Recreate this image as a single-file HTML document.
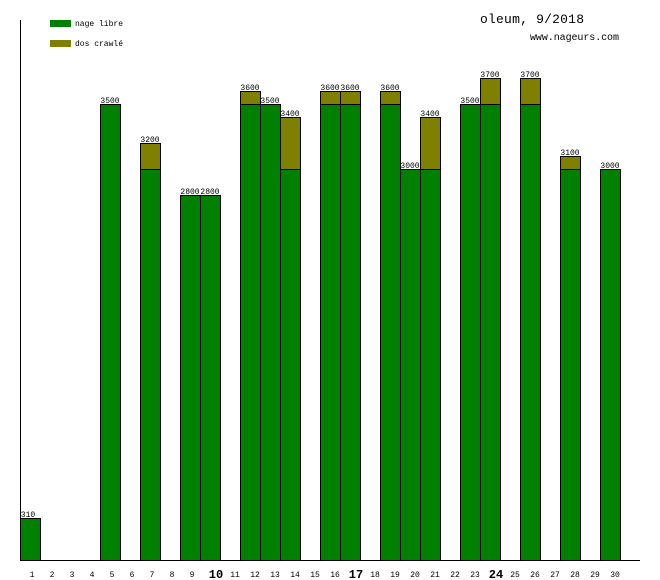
<!DOCTYPE html>
<html><head><meta charset="utf-8"><style>
html,body{margin:0;padding:0;background:#fff;}
svg{display:block;}
text{font-family:"Liberation Mono","DejaVu Sans Mono",monospace;fill:#000;}
.v{font-size:8px;text-anchor:middle;}
.d{font-size:8px;text-anchor:middle;}
.b{font-size:12px;font-weight:bold;text-anchor:middle;}
</style></head><body>
<svg width="660" height="580" viewBox="0 0 660 580" xmlns="http://www.w3.org/2000/svg">
<g stroke="#000" stroke-width="1">
<line x1="20.5" y1="20" x2="20.5" y2="560" />
<line x1="20" y1="560.5" x2="640" y2="560.5" />
</g>
<rect x="50" y="20" width="21" height="7" fill="#008000"/>
<rect x="50" y="40" width="21" height="7" fill="#808000"/>
<text x="75" y="26" style="font-size:8px">nage libre</text>
<text x="75" y="46" style="font-size:8px">dos crawlé</text>
<text x="480" y="23" style="font-size:13px" textLength="104">oleum, 9/2018</text>
<text x="530" y="40" style="font-size:10px" textLength="89">www.nageurs.com</text>
<g stroke="#000" stroke-width="1">
<rect x="20.5" y="518.5" width="20" height="42" fill="#008000"/>
<rect x="100.5" y="104.5" width="20" height="456" fill="#008000"/>
<rect x="140.5" y="143.5" width="20" height="26" fill="#808000"/>
<rect x="140.5" y="169.5" width="20" height="391" fill="#008000"/>
<rect x="180.5" y="195.5" width="20" height="365" fill="#008000"/>
<rect x="200.5" y="195.5" width="20" height="365" fill="#008000"/>
<rect x="240.5" y="91.5" width="20" height="13" fill="#808000"/>
<rect x="240.5" y="104.5" width="20" height="456" fill="#008000"/>
<rect x="260.5" y="104.5" width="20" height="456" fill="#008000"/>
<rect x="280.5" y="117.5" width="20" height="52" fill="#808000"/>
<rect x="280.5" y="169.5" width="20" height="391" fill="#008000"/>
<rect x="320.5" y="91.5" width="20" height="13" fill="#808000"/>
<rect x="320.5" y="104.5" width="20" height="456" fill="#008000"/>
<rect x="340.5" y="91.5" width="20" height="13" fill="#808000"/>
<rect x="340.5" y="104.5" width="20" height="456" fill="#008000"/>
<rect x="380.5" y="91.5" width="20" height="13" fill="#808000"/>
<rect x="380.5" y="104.5" width="20" height="456" fill="#008000"/>
<rect x="400.5" y="169.5" width="20" height="391" fill="#008000"/>
<rect x="420.5" y="117.5" width="20" height="52" fill="#808000"/>
<rect x="420.5" y="169.5" width="20" height="391" fill="#008000"/>
<rect x="460.5" y="104.5" width="20" height="456" fill="#008000"/>
<rect x="480.5" y="78.5" width="20" height="26" fill="#808000"/>
<rect x="480.5" y="104.5" width="20" height="456" fill="#008000"/>
<rect x="520.5" y="78.5" width="20" height="26" fill="#808000"/>
<rect x="520.5" y="104.5" width="20" height="456" fill="#008000"/>
<rect x="560.5" y="156.5" width="20" height="13" fill="#808000"/>
<rect x="560.5" y="169.5" width="20" height="391" fill="#008000"/>
<rect x="600.5" y="169.5" width="20" height="391" fill="#008000"/>
</g>
<text class="v" x="28" y="517">310</text>
<text class="v" x="110" y="103">3500</text>
<text class="v" x="150" y="142">3200</text>
<text class="v" x="190" y="194">2800</text>
<text class="v" x="210" y="194">2800</text>
<text class="v" x="250" y="90">3600</text>
<text class="v" x="270" y="103">3500</text>
<text class="v" x="290" y="116">3400</text>
<text class="v" x="330" y="90">3600</text>
<text class="v" x="350" y="90">3600</text>
<text class="v" x="390" y="90">3600</text>
<text class="v" x="410" y="168">3000</text>
<text class="v" x="430" y="116">3400</text>
<text class="v" x="470" y="103">3500</text>
<text class="v" x="490" y="77">3700</text>
<text class="v" x="530" y="77">3700</text>
<text class="v" x="570" y="155">3100</text>
<text class="v" x="610" y="168">3000</text>
<g>
<text class="d" x="32" y="577">1</text>
<text class="d" x="52" y="577">2</text>
<text class="d" x="72" y="577">3</text>
<text class="d" x="92" y="577">4</text>
<text class="d" x="112" y="577">5</text>
<text class="d" x="132" y="577">6</text>
<text class="d" x="152" y="577">7</text>
<text class="d" x="172" y="577">8</text>
<text class="d" x="192" y="577">9</text>
<text class="b" x="216" y="578">10</text>
<text class="d" x="235" y="577">11</text>
<text class="d" x="255" y="577">12</text>
<text class="d" x="275" y="577">13</text>
<text class="d" x="295" y="577">14</text>
<text class="d" x="315" y="577">15</text>
<text class="d" x="335" y="577">16</text>
<text class="b" x="356" y="578">17</text>
<text class="d" x="375" y="577">18</text>
<text class="d" x="395" y="577">19</text>
<text class="d" x="415" y="577">20</text>
<text class="d" x="435" y="577">21</text>
<text class="d" x="455" y="577">22</text>
<text class="d" x="475" y="577">23</text>
<text class="b" x="496" y="578">24</text>
<text class="d" x="515" y="577">25</text>
<text class="d" x="535" y="577">26</text>
<text class="d" x="555" y="577">27</text>
<text class="d" x="575" y="577">28</text>
<text class="d" x="595" y="577">29</text>
<text class="d" x="615" y="577">30</text>
</g>
</svg>
</body></html>
